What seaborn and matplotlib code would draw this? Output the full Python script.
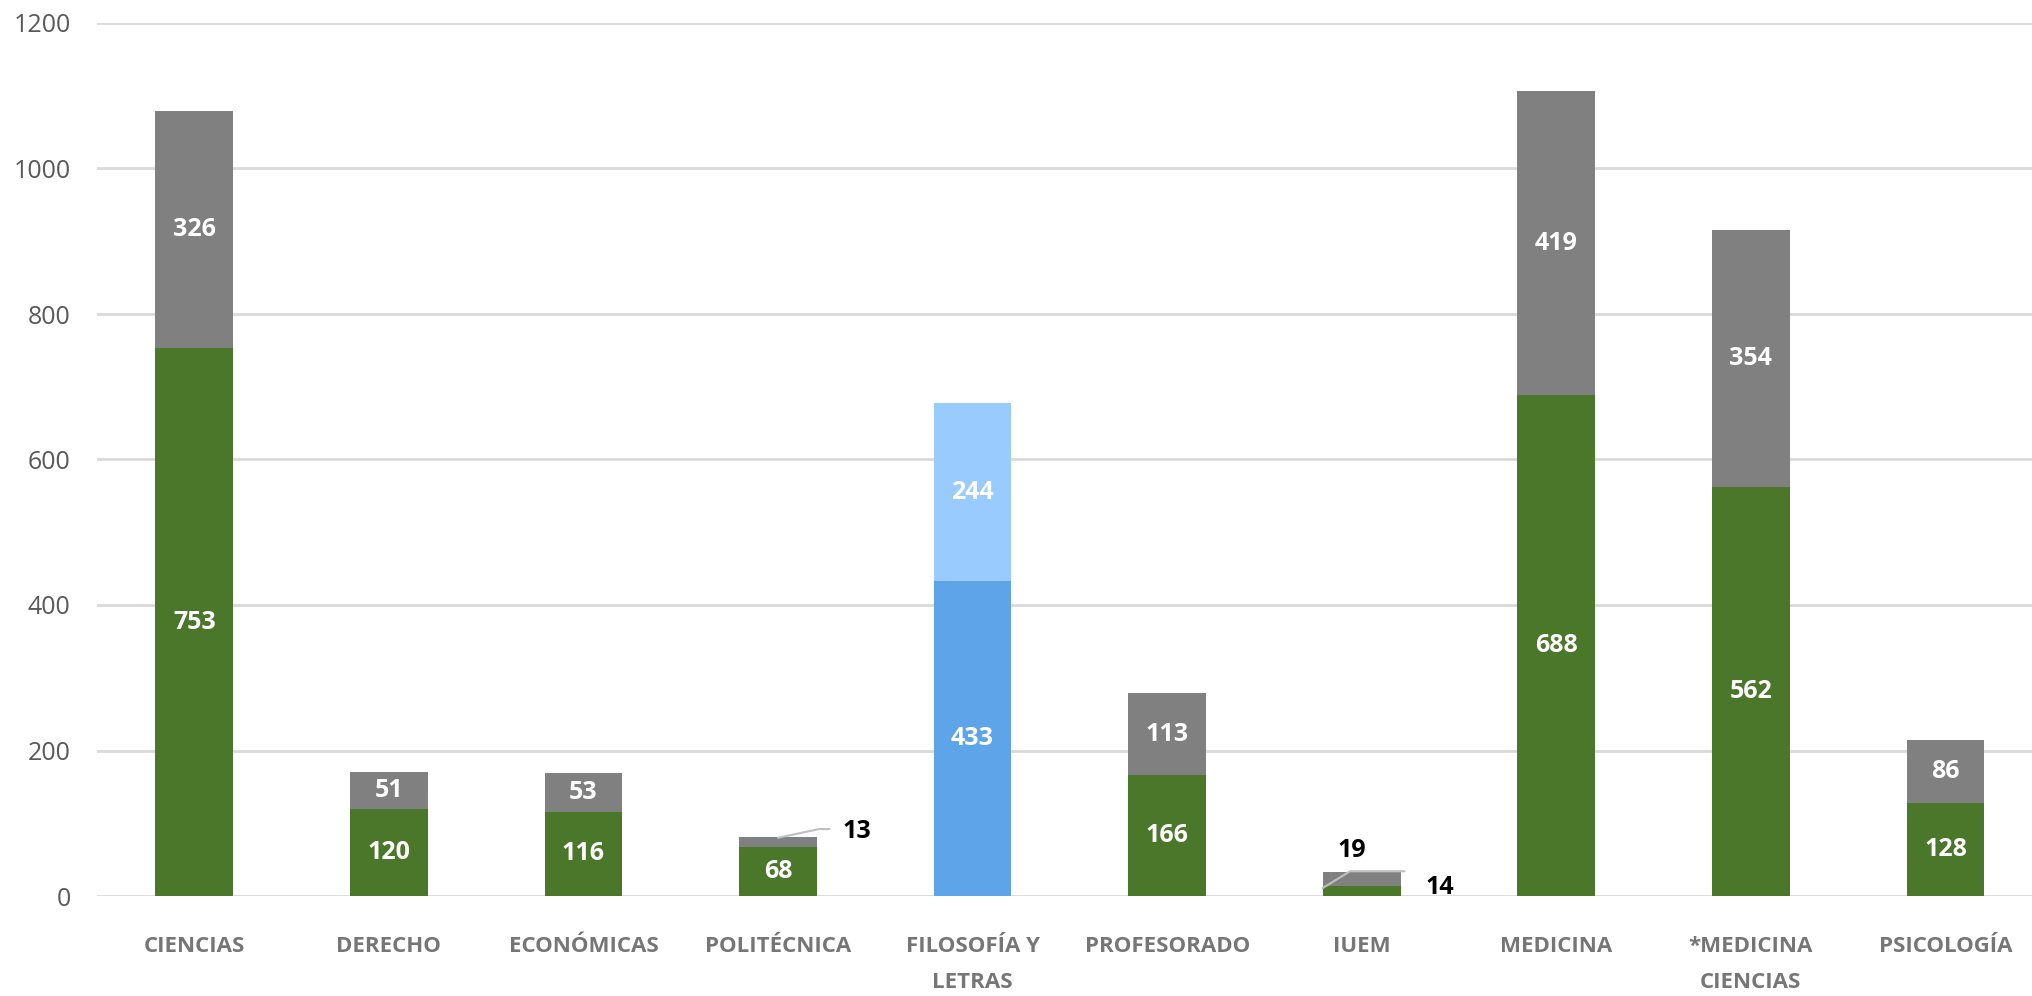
import matplotlib
matplotlib.use("Agg")
import matplotlib.pyplot as plt
import seaborn as sns
import pandas as pd

# datos
categorias = ["CIENCIAS", "DERECHO", "ECONÓMICAS", "POLITÉCNICA", "FILOSOFÍA Y\nLETRAS",
              "PROFESORADO", "IUEM", "MEDICINA", "*MEDICINA\nCIENCIAS", "PSICOLOGÍA"]
inferior = [753, 120, 116, 68, 433, 166, 14, 688, 562, 128]
superior = [326, 51, 53, 13, 244, 113, 19, 419, 354, 86]

VERDE = "#4A7729"
GRIS = "#808080"
AZUL = "#5DA4E9"
AZUL_CLARO = "#99CBFF"
col_inf = [AZUL if c.startswith("FILOSOF") else VERDE for c in categorias]
col_sup = [AZUL_CLARO if c.startswith("FILOSOF") else GRIS for c in categorias]

df = pd.DataFrame({"cat": categorias, "inf": inferior, "sup": superior})
df["total"] = df["inf"] + df["sup"]

sns.set_style("white")
plt.rcParams["font.family"] = ["Open Sans", "DejaVu Sans"]

fig = plt.figure(figsize=(20.33, 9.96), dpi=100)
ax = fig.add_axes([97 / 2033, 1 - 896 / 996, 1 - 97 / 2033, (896 - 23) / 996])

sns.barplot(data=df, x="cat", y="total", hue="cat", palette=col_sup, legend=False,
            width=0.4, saturation=1, linewidth=0, ax=ax, zorder=3)
sns.barplot(data=df, x="cat", y="inf", hue="cat", palette=col_inf, legend=False,
            width=0.4, saturation=1, linewidth=0, ax=ax, zorder=3)

ax.set_xlim(-0.5, 9.45)
ax.set_ylim(0, 1200)
ax.set_yticks(range(0, 1201, 200))
ax.yaxis.grid(True, color="#D9D9D9", linewidth=2, zorder=0)
ax.set_axisbelow(True)
for s in ax.spines.values():
    s.set_visible(False)
ax.set_xlabel("")
ax.set_ylabel("")
ax.tick_params(axis="y", length=0, pad=19, labelsize=18, labelcolor="#595959")
ax.tick_params(axis="x", length=0, pad=29)
ax.set_xticks(range(len(categorias)))
ax.set_xticklabels(categorias, fontsize=16, fontweight="bold", color="#767676",
                   linespacing=1.9, va="top")

# etiquetas de valores
etiq = dict(ha="center", va="center", fontsize=18, fontweight="bold", color="white", zorder=5)
for i, row in df.iterrows():
    if row["cat"] in ("IUEM",):
        continue
    ax.text(i, row["inf"] / 2, str(row["inf"]), **etiq)
    if row["cat"] == "POLITÉCNICA":
        continue
    ax.text(i, row["inf"] + row["sup"] / 2, str(row["sup"]), **etiq)

# etiquetas con líneas guía
guia = dict(color="#BFBFBF", linewidth=1.5, zorder=4)
ax.plot([3.0, 3.21, 3.265], [80, 92, 92], **guia)
ax.text(3.33, 89, "13", ha="left", va="center", fontsize=18, fontweight="bold", color="black")
ax.plot([5.8, 5.94, 6.22], [11, 34, 34], **guia)
ax.text(5.95, 63, "19", ha="center", va="center", fontsize=18, fontweight="bold", color="black")
ax.text(6.33, 12, "14", ha="left", va="center", fontsize=18, fontweight="bold", color="black")

fig.savefig("out.png", dpi=100)
